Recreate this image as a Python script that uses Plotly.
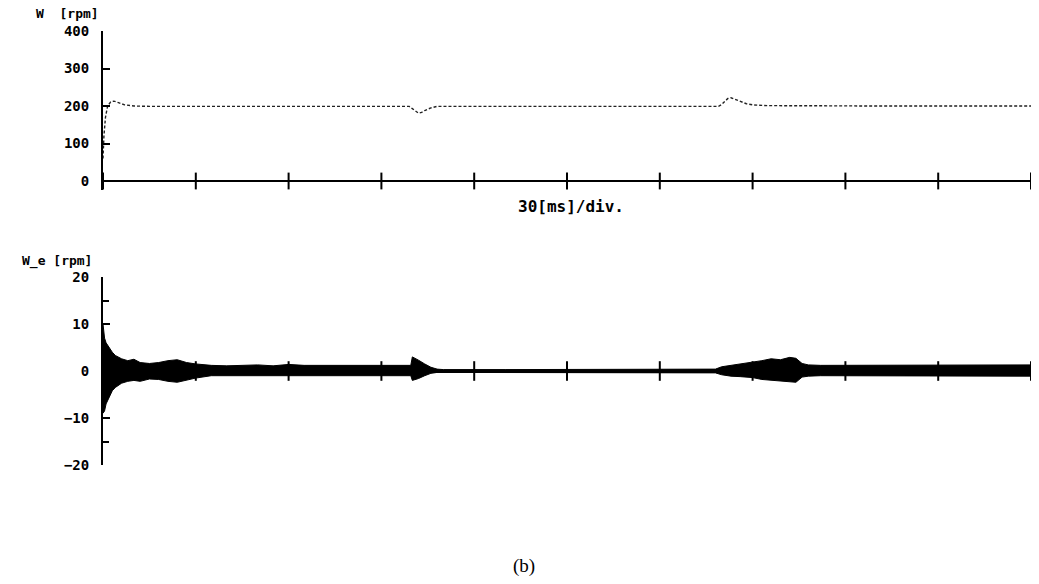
import plotly.graph_objects as go

# ---------------- data ----------------
# Speed W [rpm] vs time [ms]
w_t = [0, 0.3, 0.8, 1.5, 2.5, 3.5, 5, 7, 10, 15, 30, 60, 99, 100, 101, 102, 103,
       104, 106, 108, 110, 150, 199, 200, 201, 202, 203, 204, 206, 208, 210, 215, 250, 300]
w_val = [60, 120, 170, 200, 211, 213, 209, 203, 200, 199, 199, 199, 199, 193, 186, 181, 183,
         188, 195, 199, 199, 199, 199, 204, 212, 220, 222, 219, 211, 206, 203, 201, 200, 200]

# Speed error W_e [rpm]: envelope of the dense oscillation
we_t = [0, 0.5, 1, 2, 3, 4, 6, 8, 10, 12, 15, 18, 21, 24, 27, 30, 35, 40, 45, 50, 55, 60, 65,
        70, 75, 80, 85, 90, 95, 99.5, 100, 101, 102, 104, 106, 108, 110, 130, 150, 170, 190, 198,
        200, 203, 206, 210, 213, 216, 219, 222, 224, 226, 228, 232, 240, 250, 260, 270, 280, 290, 300]
we_hi = [10, 7, 6, 5, 4, 3.3, 2.6, 2.2, 2.5, 1.8, 1.6, 1.8, 2.2, 2.4, 1.8, 1.5, 1.2, 1.1, 1.2, 1.3, 1.1, 1.4, 1.2,
         1.2, 1.3, 1.3, 1.2, 1.3, 1.2, 1.2, 3.0, 2.7, 2.3, 1.5, 0.8, 0.4, 0.3, 0.3, 0.3, 0.3, 0.3, 0.4,
         0.9, 1.2, 1.4, 1.9, 2.2, 2.6, 2.4, 2.9, 2.7, 1.6, 1.3, 1.2, 1.2, 1.3, 1.2, 1.2, 1.3, 1.2, 1.3]
we_lo = [-9, -8.5, -7, -5.5, -4.2, -3.5, -2.6, -2.2, -2.0, -2.2, -1.7, -1.8, -2.2, -2.4, -2.0, -1.5, -1.0, -1.0, -1.1, -1.0, -1.1, -1.1, -1.0,
         -1.1, -1.0, -1.1, -1.0, -1.0, -1.1, -1.0, -2.0, -1.8, -1.6, -1.0, -0.5, -0.3, -0.3, -0.3, -0.3, -0.3, -0.3, -0.4,
         -0.8, -1.1, -1.2, -1.4, -1.8, -2.0, -2.1, -2.4, -2.4, -1.3, -1.1, -1.0, -1.0, -1.1, -1.0, -1.0, -1.1, -1.0, -1.1]

x_ticks = [0, 30, 60, 90, 120, 150, 180, 210, 240, 270, 300]
w_ticks = [0, 100, 200, 300, 400]
we_ticks = [-20, -10, 0, 10, 20]

W, H = 1039, 584
FONT_MONO = "DejaVu Sans Mono"

def px_x(p):
    return p / W

def px_y(p):
    return 1 - p / H

fig = go.Figure()

# top: W
fig.add_trace(go.Scatter(x=w_t, y=w_val, mode="lines", xaxis="x", yaxis="y",
                         line=dict(color="#222222", width=1.4, dash="3px,2px"),
                         showlegend=False, hoverinfo="skip"))
fig.add_trace(go.Scatter(x=x_ticks, y=[0] * len(x_ticks), mode="markers", xaxis="x", yaxis="y",
                         marker=dict(symbol="line-ns", size=12, line=dict(width=2, color="black")),
                         showlegend=False, hoverinfo="skip"))

# bottom: W_e envelope
fig.add_trace(go.Scatter(x=we_t, y=we_hi, mode="lines", xaxis="x2", yaxis="y2",
                         line=dict(color="black", width=1), showlegend=False, hoverinfo="skip"))
fig.add_trace(go.Scatter(x=we_t, y=we_lo, mode="lines", xaxis="x2", yaxis="y2", fill="tonexty",
                         fillcolor="black", line=dict(color="black", width=1),
                         showlegend=False, hoverinfo="skip"))
fig.add_trace(go.Scatter(x=x_ticks, y=[0] * len(x_ticks), mode="markers", xaxis="x2", yaxis="y2",
                         marker=dict(symbol="line-ns", size=14, line=dict(width=2, color="black")),
                         showlegend=False, hoverinfo="skip"))

tickfont = dict(family=FONT_MONO, size=14, color="black", weight="bold")
xdom = [px_x(103), px_x(1031)]

common_x = dict(domain=xdom, range=[0, 300], showgrid=False, zeroline=False,
                showline=False, showticklabels=False, ticks="", fixedrange=True,
                automargin=False)

def note(text, cx, cy, size, family=FONT_MONO, bold=True):
    return dict(text=text, x=px_x(cx), y=px_y(cy), xref="paper", yref="paper",
                xanchor="center", yanchor="middle", showarrow=False,
                font=dict(family=family, size=size, color="black",
                          weight="bold" if bold else "normal"))

fig.update_layout(
    width=W, height=H,
    margin=dict(l=0, r=0, t=0, b=0, pad=0),
    paper_bgcolor="white", plot_bgcolor="white",
    xaxis=dict(**common_x, anchor="y"),
    xaxis2=dict(**common_x, anchor="y2"),
    yaxis=dict(domain=[px_y(190), px_y(31)], range=[-24, 400], anchor="x",
               tickvals=w_ticks, ticks="inside", ticklen=7, tickwidth=2, tickcolor="black",
               showline=True, linewidth=2, linecolor="black", showgrid=False,
               zeroline=True, zerolinewidth=2, zerolinecolor="black",
               tickfont=tickfont, ticklabelstandoff=9, automargin=False),
    yaxis2=dict(domain=[px_y(465), px_y(277)], range=[-20, 20], anchor="x2",
                tickvals=we_ticks, ticks="inside", ticklen=7, tickwidth=2, tickcolor="black",
                minor=dict(dtick=5, ticks="inside", ticklen=6, tickwidth=1.5, tickcolor="black"),
                showline=True, linewidth=2, linecolor="black", showgrid=False,
                zeroline=True, zerolinewidth=2.5, zerolinecolor="black",
                tickfont=tickfont, ticklabelstandoff=9, automargin=False),
    annotations=[
        note("W  [rpm]", 67, 14, 13),
        note("W_e [rpm]", 57, 261, 13),
        note("30[ms]/div.", 571, 207, 16),
        note("(b)", 524, 566, 19, family="Liberation Serif", bold=False),
    ],
)

fig.write_html("out.html")
